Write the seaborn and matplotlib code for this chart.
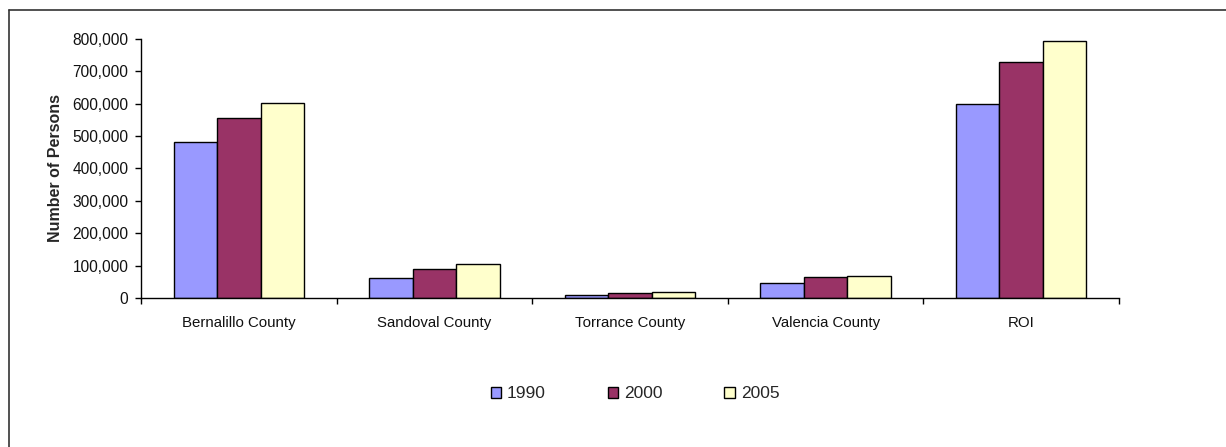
import matplotlib
matplotlib.use("Agg")
import matplotlib.pyplot as plt
from matplotlib.lines import Line2D
from matplotlib.patches import Patch
from matplotlib.ticker import FuncFormatter, FixedLocator
import seaborn as sns
import pandas as pd

# Population by area and year
areas = ["Bernalillo County", "Sandoval County", "Torrance County", "Valencia County", "ROI"]
years = ["1990", "2000", "2005"]
pop_1990 = [480577, 63319, 10285, 45235, 599416]
pop_2000 = [556678, 89908, 16911, 66152, 729649]
pop_2005 = [603562, 106000, 17000, 68000, 794562]
colors = ["#9999FF", "#993366", "#FFFFCC"]

df = pd.DataFrame({
    "Area": areas * 3,
    "Year": [y for y in years for _ in areas],
    "Persons": pop_1990 + pop_2000 + pop_2005,
})

sns.set_style("white")
plt.rcParams["font.family"] = ["Liberation Sans", "DejaVu Sans"]

fig = plt.figure(figsize=(12.26, 4.47), dpi=100)
ax = fig.add_axes([141 / 1226, 1 - 298 / 447, (1119 - 141) / 1226, (298 - 39) / 447])

sns.barplot(data=df, x="Area", y="Persons", hue="Year", palette=colors,
            width=2 / 3, edgecolor="black", linewidth=1.0, ax=ax,
            saturation=1, legend=False, errorbar=None)

ax.set_xlim(-0.5, len(areas) - 0.5)
ax.set_ylim(0, 800000)
ax.yaxis.set_major_locator(FixedLocator(range(0, 800001, 100000)))
ax.yaxis.set_major_formatter(FuncFormatter(lambda v, p: f"{int(v):,}"))

# category boundaries carry the tick marks, labels sit at the centres
ax.set_xticks([i - 0.5 for i in range(len(areas) + 1)])
ax.set_xticklabels([])
ax.set_xticks(range(len(areas)), minor=True)
ax.set_xticklabels(areas, minor=True)
ax.tick_params(axis="x", which="major", direction="out", length=4, width=1, color="black", bottom=True)
ax.tick_params(axis="x", which="minor", length=0, pad=13, labelsize=10.8, labelcolor="#111111")
ax.tick_params(axis="y", direction="out", length=4, width=1, color="black", left=True,
               labelsize=11.2, labelcolor="#111111", pad=5)

for side in ["top", "right"]:
    ax.spines[side].set_visible(False)
for side in ["left", "bottom"]:
    ax.spines[side].set_color("black")
    ax.spines[side].set_linewidth(1.0)

ax.set_xlabel("")
ax.set_ylabel("Number of Persons", fontsize=11.5, fontweight="bold", labelpad=7)

handles = [Patch(facecolor=c, edgecolor="black", linewidth=1.0) for c in colors]
fig.legend(handles, years, loc="center", bbox_to_anchor=(635 / 1226, 1 - 394 / 447),
           ncol=3, frameon=False, fontsize=12.5, handlelength=0.6, handleheight=0.6,
           handletextpad=0.35, columnspacing=3.55)

# chart border (top and left edges)
fig.add_artist(Line2D([9 / 1226, 1.0], [1 - 10 / 447, 1 - 10 / 447], transform=fig.transFigure,
                      color="#333333", linewidth=1.2))
fig.add_artist(Line2D([9 / 1226, 9 / 1226], [0.0, 1 - 10 / 447], transform=fig.transFigure,
                      color="#333333", linewidth=1.2))

fig.savefig("out.png", dpi=100)
